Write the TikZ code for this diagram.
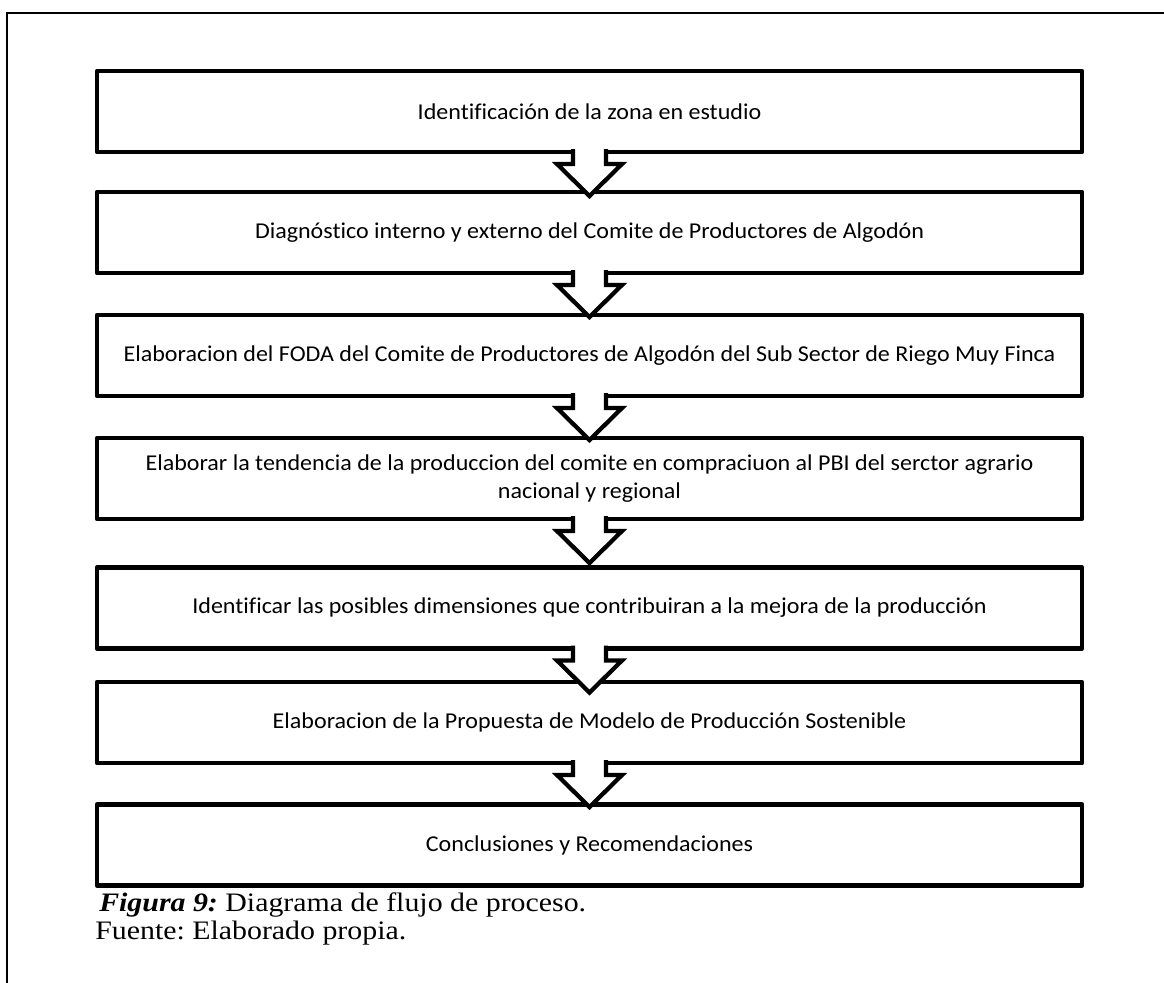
\documentclass[tikz,border=0pt]{standalone}
\usepackage{fontspec}
\setmainfont{Liberation Serif}[FakeStretch=1.12]
\newfontfamily\boxfont[Ligatures=NoCommon,FakeStretch=1.06]{Carlito}
\usetikzlibrary{calc}
\frenchspacing
\begin{document}
\begin{tikzpicture}[x=0.75pt,y=-0.75pt,
  flowbox/.style={draw, line width=3.4pt, minimum width=738.75pt, minimum height=60.75pt,
    inner sep=0pt, outer sep=0pt, font=\boxfont\fontsize{17}{21.5}\selectfont,
    align=center, line join=round},
  blockarrow/.style={fill=white, draw, line width=3.2pt, line join=miter},
  captext/.style={anchor=base west, inner sep=0pt, font=\fontsize{20}{21}\selectfont}]
\useasboundingbox (0,0) rectangle (1164,982);
\draw[line width=1.1pt] (7,990) -- (7,13) -- (1170,13);
\node[flowbox] (b1) at (589.5,111.5) {Identificación de la zona en estudio};
\node[flowbox] (b2) at (589.5,232.5) {Diagnóstico interno y externo del Comite de Productores de Algodón};
\node[flowbox] (b3) at (589.5,355.5) {Elaboracion del FODA del Comite de Productores de Algodón del Sub Sector de Riego Muy Finca};
\node[flowbox] (b4) at (589.5,478.5) {Elaborar la tendencia de la produccion del comite en compraciuon al PBI del serctor agrario\\nacional y regional};
\node[flowbox] (b5) at (589.5,608) {Identificar las posibles dimensiones que contribuiran a la mejora de la producción};
\node[flowbox] (b6) at (589.5,722.5) {Elaboracion de la Propuesta de Modelo de Producción Sostenible};
\node[flowbox] (b7) at (589.5,845) {Conclusiones y Recomendaciones};
\foreach \a/\b in {b1/b2,b2/b3,b3/b4,b4/b5,b5/b6,b6/b7}{
  \filldraw[blockarrow] ($(\a.south)+(-16.5,-3)$) -- ($(\a.south)+(-16.5,12)$)
    -- ($(\a.south)+(-32.5,12)$) -- ($(\a.south)+(0,44)$)
    -- ($(\a.south)+(32.5,12)$) -- ($(\a.south)+(16.5,12)$)
    -- ($(\a.south)+(16.5,-3)$);
}
\node[captext] (cap1) at (99,911) {\textbf{\textit{Figura 9:}} Diagrama de flujo de proceso.};
\node[captext] (cap2) at (95,939) {Fuente: Elaborado propia.};
\end{tikzpicture}
\end{document}
